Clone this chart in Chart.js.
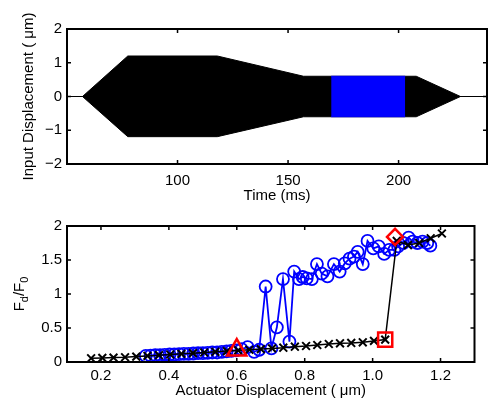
<!DOCTYPE html>
<html>
<head>
<meta charset="utf-8">
<script src="https://cdn.jsdelivr.net/npm/chart.js@4"></script>
<style>
  body { margin: 0; background: #fff; }
  canvas { position: absolute; left: 0; }
  #inputChart { top: 0; }
  #forceChart { top: 206px; }
</style>
</head>
<body>
<canvas id="inputChart" width="488" height="206"></canvas>
<canvas id="forceChart" width="488" height="194"></canvas>
<script>
// top panel: drive signal envelope (ms, um)
const envTime = [57, 77.5, 118, 157, 208, 228];
const envUpper = [0, 1.2, 1.2, 0.6, 0.6, 0];
const envLower = [0, -1.19, -1.19, -0.6, -0.6, 0];
const holdTime = [169.5, 203];
const holdUpper = [0.6, 0.6];
const holdLower = [-0.6, -0.6];
const baseTime = [50, 240];
const baseLevel = [0, 0];
const timeTicks = [100, 150, 200];
const inputTicks = [-2, -1, 0, 1, 2];

// bottom panel: Fd/F0 against actuator displacement (um)
const dispBlack = [0.171, 0.204, 0.237, 0.271, 0.304, 0.337, 0.371, 0.404, 0.437, 0.471,
  0.504, 0.537, 0.571, 0.604, 0.637, 0.671, 0.704, 0.737, 0.771, 0.804,
  0.837, 0.871, 0.904, 0.937, 0.971, 1.004, 1.037, 1.071, 1.104, 1.137,
  1.171, 1.204];
const ratioBlack = [0.055, 0.06, 0.065, 0.07, 0.08, 0.09, 0.1, 0.11, 0.12, 0.13,
  0.14, 0.15, 0.16, 0.17, 0.18, 0.19, 0.2, 0.21, 0.225, 0.235,
  0.25, 0.265, 0.275, 0.28, 0.29, 0.31, 0.33, 1.78, 1.72, 1.75,
  1.82, 1.89];
const dispBlue = [0.332, 0.346, 0.360, 0.374, 0.388, 0.402, 0.416, 0.430, 0.444, 0.458,
  0.472, 0.486, 0.500, 0.514, 0.528, 0.542, 0.556, 0.570, 0.584, 0.598,
  0.614, 0.632, 0.651, 0.666, 0.685, 0.702, 0.718, 0.736, 0.755, 0.769,
  0.783, 0.794, 0.806, 0.821, 0.836, 0.850, 0.867, 0.886, 0.903, 0.918,
  0.932, 0.945, 0.956, 0.971, 0.985, 1.002, 1.018, 1.034, 1.049, 1.064,
  1.075, 1.090, 1.106, 1.118, 1.132, 1.147, 1.161, 1.170];
const ratioBlue = [0.09, 0.095, 0.10, 0.10, 0.105, 0.11, 0.11, 0.115, 0.12, 0.12,
  0.125, 0.13, 0.13, 0.135, 0.14, 0.14, 0.15, 0.155, 0.165, 0.17,
  0.19, 0.22, 0.15, 0.18, 1.11, 0.20, 0.51, 1.22, 0.30, 1.33,
  1.22, 1.25, 1.23, 1.22, 1.44, 1.30, 1.26, 1.44, 1.33, 1.45,
  1.52, 1.55, 1.62, 1.44, 1.78, 1.67, 1.70, 1.59, 1.65, 1.65,
  1.70, 1.75, 1.83, 1.77, 1.75, 1.77, 1.75, 1.71];
const triangleMark = [0.60, 0.175];
const squareMark = [1.037, 0.33];
const diamondMark = [1.066, 1.84];
const dispTicks = [0.2, 0.4, 0.6, 0.8, 1, 1.2];
const ratioTicks = [0, 0.5, 1, 1.5, 2];

const FONT = 'Liberation Sans, Arial, Helvetica, sans-serif';

function pts(xs, ys) {
  return xs.map((x, i) => ({ x: x, y: ys[i] }));
}

function fixedTicks(values) {
  return scale => { scale.ticks = values.map(v => ({ value: v })); };
}

function minus(v) {
  return String(v).replace('-', '\u2212');
}

// MATLAB style box with inward tick marks on all four sides
const boxTicks = {
  id: 'boxTicks',
  afterDatasetsDraw(chart) {
    const { ctx, chartArea: a, scales: { x, y } } = chart;
    ctx.save();
    ctx.strokeStyle = '#000';
    ctx.lineWidth = 1.5;
    ctx.beginPath();
    x.ticks.forEach(t => {
      const px = x.getPixelForValue(t.value);
      ctx.moveTo(px, a.bottom); ctx.lineTo(px, a.bottom - 4);
      ctx.moveTo(px, a.top); ctx.lineTo(px, a.top + 4);
    });
    y.ticks.forEach(t => {
      const py = y.getPixelForValue(t.value);
      ctx.moveTo(a.left, py); ctx.lineTo(a.left + 4, py);
      ctx.moveTo(a.right, py); ctx.lineTo(a.right - 4, py);
    });
    ctx.stroke();
    ctx.lineWidth = 2;
    ctx.strokeRect(a.left, a.top, a.right - a.left, a.bottom - a.top);
    ctx.restore();
  }
};

// F_d/F_0 label with subscripts, rotated
const ratioLabel = {
  id: 'ratioLabel',
  afterDraw(chart) {
    const { ctx, chartArea: a } = chart;
    const parts = [['F', 15, 0], ['d', 11, 4], ['/F', 15, 0], ['0', 11, 4]];
    ctx.save();
    let total = 0;
    parts.forEach(p => { ctx.font = p[1] + 'px ' + FONT; total += ctx.measureText(p[0]).width; });
    ctx.translate(24, (a.top + a.bottom) / 2);
    ctx.rotate(-Math.PI / 2);
    ctx.fillStyle = '#000';
    ctx.textBaseline = 'alphabetic';
    let pos = -total / 2;
    parts.forEach(p => {
      ctx.font = p[1] + 'px ' + FONT;
      ctx.fillText(p[0], pos, p[2]);
      pos += ctx.measureText(p[0]).width;
    });
    ctx.restore();
  }
};

document.addEventListener('DOMContentLoaded', () => {
  Chart.defaults.color = '#000';
  Chart.defaults.font.family = FONT;
  Chart.defaults.font.size = 15;

  const ctxInput = document.getElementById('inputChart').getContext('2d');
  const inputChart = new Chart(ctxInput, {
    type: 'line',
    data: {
      datasets: [
        { data: pts(holdTime, holdUpper), borderColor: '#0000ff', backgroundColor: '#0000ff', borderWidth: 1, pointRadius: 0, fill: '+1' },
        { data: pts(holdTime, holdLower), borderColor: '#0000ff', borderWidth: 1, pointRadius: 0, fill: false },
        { data: pts(envTime, envUpper), borderColor: '#000', backgroundColor: '#000', borderWidth: 1, pointRadius: 0, fill: '+1' },
        { data: pts(envTime, envLower), borderColor: '#000', borderWidth: 1, pointRadius: 0, fill: false },
        { data: pts(baseTime, baseLevel), borderColor: '#000', borderWidth: 1, pointRadius: 0, fill: false }
      ]
    },
    options: {
      responsive: false,
      animation: false,
      devicePixelRatio: 1,
      layout: { padding: { top: 29, right: 1, left: 0, bottom: 0 } },
      plugins: { legend: { display: false }, tooltip: { enabled: false } },
      scales: {
        x: {
          type: 'linear', min: 50, max: 240,
          afterBuildTicks: fixedTicks(timeTicks),
          afterFit: s => { s.height = 42; },
          grid: { display: false, drawTicks: false },
          border: { display: false },
          ticks: { padding: 8, maxRotation: 0 },
          title: { display: true, text: 'Time (ms)', padding: { top: 0, bottom: 1 } }
        },
        y: {
          min: -2, max: 2,
          afterBuildTicks: fixedTicks(inputTicks),
          afterFit: s => { s.width = 67; },
          grid: { display: false, drawTicks: false },
          border: { display: false },
          ticks: { padding: 5, callback: v => minus(v) },
          title: { display: true, text: 'Input Displacement ( \u03bcm)', padding: { top: 20, bottom: 0 } }
        }
      }
    },
    plugins: [boxTicks]
  });

  const ctxForce = document.getElementById('forceChart').getContext('2d');
  const forceChart = new Chart(ctxForce, {
    type: 'line',
    data: {
      datasets: [
        { data: [{ x: triangleMark[0], y: triangleMark[1] }], showLine: false, pointStyle: 'triangle', pointRadius: 11, borderColor: '#ff0000', backgroundColor: 'rgba(0,0,0,0)', pointBorderWidth: 2.5, order: 0 },
        { data: [{ x: squareMark[0], y: squareMark[1] }], showLine: false, pointStyle: 'rect', pointRadius: 10, borderColor: '#ff0000', backgroundColor: 'rgba(0,0,0,0)', pointBorderWidth: 2.5, order: 0 },
        { data: [{ x: diamondMark[0], y: diamondMark[1] }], showLine: false, pointStyle: 'rectRot', pointRadius: 8, borderColor: '#ff0000', backgroundColor: 'rgba(0,0,0,0)', pointBorderWidth: 2.5, order: 0 },
        { data: pts(dispBlack, ratioBlack), borderColor: '#000', backgroundColor: '#000', borderWidth: 1.5, pointStyle: 'crossRot', pointRadius: 5.5, pointBorderWidth: 2, order: 1 },
        { data: pts(dispBlue, ratioBlue), borderColor: '#0000ff', backgroundColor: 'rgba(0,0,0,0)', borderWidth: 1.8, pointStyle: 'circle', pointRadius: 6, pointBorderWidth: 1.8, order: 2 }
      ]
    },
    options: {
      responsive: false,
      animation: false,
      devicePixelRatio: 1,
      layout: { padding: { top: 20, right: 1, left: 0, bottom: 0 } },
      plugins: { legend: { display: false }, tooltip: { enabled: false } },
      scales: {
        x: {
          type: 'linear', min: 0.1, max: 1.3,
          afterBuildTicks: fixedTicks(dispTicks),
          afterFit: s => { s.height = 38; },
          grid: { display: false, drawTicks: false },
          border: { display: false },
          ticks: { padding: 5, maxRotation: 0 },
          title: { display: true, text: 'Actuator Displacement ( \u03bcm)', padding: { top: 0, bottom: 0 } }
        },
        y: {
          min: 0, max: 2,
          afterBuildTicks: fixedTicks(ratioTicks),
          afterFit: s => { s.width = 67; },
          grid: { display: false, drawTicks: false },
          border: { display: false },
          ticks: { padding: 5, callback: v => minus(v) }
        }
      }
    },
    plugins: [boxTicks, ratioLabel]
  });
});
</script>
</body>
</html>
